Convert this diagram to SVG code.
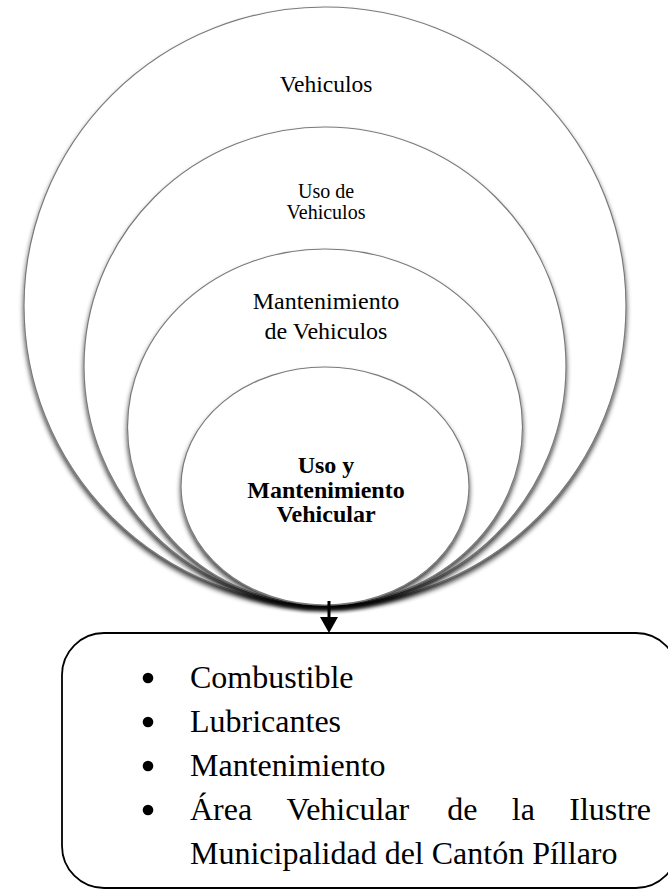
<svg xmlns="http://www.w3.org/2000/svg" width="668" height="894" viewBox="0 0 668 894">
  <style>
    .ring { fill: #ffffff; stroke: #7a7a7a; stroke-width: 1.2; filter: url(#drop); }
    .lbl { font-family: "Liberation Serif", "Times New Roman", serif; fill: #000; text-anchor: middle; }
    .core { font-weight: bold; font-size: 24px; }
    .item { font-family: "Liberation Serif", "Times New Roman", serif; font-size: 32px; fill: #000; }
    .frame { fill: #ffffff; stroke: #000; stroke-width: 1.8; }
    .link { stroke: #000; stroke-width: 3; fill: none; }
  </style>
  <defs>
    <!-- soft shadow under each ring -->
    <filter id="drop" x="-10%" y="-10%" width="120%" height="130%">
      <feGaussianBlur in="SourceAlpha" stdDeviation="2.6"/>
      <feOffset dy="3.5" result="off"/>
      <feComponentTransfer in="off" result="soft">
        <feFuncA type="linear" slope="0.75"/>
      </feComponentTransfer>
      <feMerge>
        <feMergeNode in="soft"/>
        <feMergeNode in="SourceGraphic"/>
      </feMerge>
    </filter>
    <marker id="head" markerWidth="18" markerHeight="18" refX="5" refY="9" orient="auto" markerUnits="userSpaceOnUse">
      <path d="M0,0 L16,9 L0,18 Z" fill="#000"/>
    </marker>
  </defs>

  <rect width="668" height="894" fill="#ffffff"/>

  <!-- nested rings, outermost first -->
  <g id="ring-vehiculos">
    <ellipse class="ring" cx="325" cy="306" rx="301" ry="299"/>
    <text class="lbl" x="326" y="92" font-size="23.5">Vehiculos</text>
  </g>
  <g id="ring-uso">
    <ellipse class="ring" cx="325" cy="366" rx="241" ry="239"/>
    <text class="lbl" x="326" y="198" font-size="20">Uso de</text>
    <text class="lbl" x="326" y="218.5" font-size="20">Vehiculos</text>
  </g>
  <g id="ring-mantenimiento">
    <ellipse class="ring" cx="325" cy="427" rx="197.5" ry="178"/>
    <text class="lbl" x="326" y="309" font-size="24">Mantenimiento</text>
    <text class="lbl" x="326" y="339" font-size="24">de Vehiculos</text>
  </g>
  <g id="ring-core">
    <ellipse class="ring" cx="325" cy="486" rx="144" ry="119"/>
    <text class="lbl core" x="326" y="473">Uso y</text>
    <text class="lbl core" x="326" y="497.5">Mantenimiento</text>
    <text class="lbl core" x="326" y="522">Vehicular</text>
  </g>

  <!-- list panel -->
  <g id="panel-items">
    <rect class="frame" x="62" y="633" width="616" height="255" rx="42" ry="42"/>
    <circle cx="148" cy="678" r="5.3"/>
    <circle cx="148" cy="722" r="5.3"/>
    <circle cx="148" cy="766" r="5.3"/>
    <circle cx="148" cy="810" r="5.3"/>
    <text class="item" x="190" y="688">Combustible</text>
    <text class="item" x="190" y="732">Lubricantes</text>
    <text class="item" x="190" y="776">Mantenimiento</text>
    <text class="item" y="820"><tspan x="190">Área</tspan><tspan x="286.6">Vehicular</tspan><tspan x="447.2">de</tspan><tspan x="511.8">la</tspan><tspan x="569.3">Ilustre</tspan></text>
    <text class="item" x="190" y="864">Municipalidad del Cantón Píllaro</text>
  </g>

  <!-- connectors -->
  <g id="connectors">
    <line class="link" x1="329" y1="601" x2="329" y2="622" marker-end="url(#head)"/>
  </g>
</svg>
